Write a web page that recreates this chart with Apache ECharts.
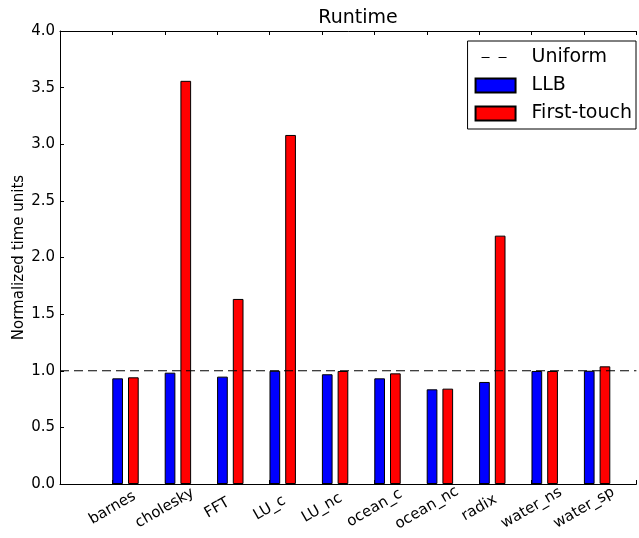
<!DOCTYPE html>
<html>
<head>
<meta charset="utf-8">
<script src="https://cdn.jsdelivr.net/npm/echarts@6/dist/echarts.min.js"></script>
<style>
  html, body { margin: 0; padding: 0; background: #fff; }
  #chart { width: 639px; height: 538px; }
</style>
</head>
<body>
<div id="chart"></div>
<script>
const categories = ["barnes", "cholesky", "FFT", "LU_c", "LU_nc", "ocean_c", "ocean_nc", "radix", "water_ns", "water_sp"];
const llb = [0.933, 0.983, 0.948, 1.0, 0.969, 0.933, 0.836, 0.901, 0.998, 1.0];
const firstTouch = [0.942, 3.56, 1.634, 3.082, 0.998, 0.977, 0.842, 2.193, 0.998, 1.039];
const uniformLevel = 1.0;
const yTicks = { min: 0, max: 4, step: 0.5 };

// bars sit to the right of each tick, like matplotlib's bar(left=i)
const llbData = llb.map((v, i) => [i + 1 + 0.1, v]);
const ftData = firstTouch.map((v, i) => [i + 1 + 0.4, v]);
const uniformData = [[0, uniformLevel], [categories.length + 1, uniformLevel]];

const chart = echarts.init(document.getElementById("chart"), null, { renderer: "canvas" });
const font = "'DejaVu Sans', sans-serif";

// two short dashes inside a 40x14 box (corner specks keep the box size)
const dashIcon = "path://M0,0h0.01v0.01h-0.01z M6,6.5h8v1h-8z M23,6.5h8v1h-8z M39.99,13.99h0.01v0.01h-0.01z";

const option = {
  animation: false,
  title: {
    text: "Runtime",
    left: 353,
    textAlign: "center",
    top: 4,
    textStyle: { fontFamily: font, fontSize: 19, fontWeight: "normal", color: "#000" },
  },
  legend: {
    orient: "vertical",
    right: 3,
    top: 41,
    align: "left",
    padding: [7, 4, 6, 7],
    itemWidth: 40,
    itemHeight: 14,
    itemGap: 9,
    borderColor: "#000",
    borderWidth: 1,
    backgroundColor: "#fff",
    textStyle: { fontFamily: font, fontSize: 19, color: "#000", lineHeight: 19, padding: [0, 0, 0, 11] },
    data: [
      { name: "Uniform", icon: dashIcon, itemStyle: { color: "#000", borderWidth: 0 } },
      { name: "LLB", icon: "rect" },
      { name: "First-touch", icon: "rect" },
    ],
  },
  grid: { left: 60, right: -7, top: 31, bottom: 54 },
  xAxis: [
    {
      type: "value",
      min: 0,
      max: categories.length + 1,
      interval: 1,
      position: "bottom",
      axisLine: { lineStyle: { color: "#000", width: 1 } },
      axisTick: { inside: true, length: 4, lineStyle: { color: "#000" } },
      splitLine: { show: false },
      axisLabel: {
        rotate: 30,
        align: "center",
        verticalAlign: "middle",
        margin: 24,
        fontFamily: font,
        fontSize: 15,
        color: "#000",
        formatter: (v) => (v >= 1 && v <= categories.length ? categories[v - 1] : ""),
      },
    },
    {
      type: "value",
      min: 0,
      max: categories.length + 1,
      interval: 1,
      position: "top",
      axisLine: { lineStyle: { color: "#000", width: 1 } },
      axisTick: { inside: true, length: 4, lineStyle: { color: "#000" } },
      axisLabel: { show: false },
      splitLine: { show: false },
    },
  ],
  yAxis: {
    type: "value",
    min: yTicks.min,
    max: yTicks.max,
    interval: yTicks.step,
    name: "Normalized time units",
    nameLocation: "middle",
    nameGap: 33,
    nameMoveOverlap: false,
    nameTextStyle: { fontFamily: font, fontSize: 15, color: "#000" },
    axisLine: { show: true, lineStyle: { color: "#000", width: 1 } },
    axisTick: { show: true, inside: true, length: 4, lineStyle: { color: "#000" } },
    splitLine: { show: false },
    axisLabel: {
      fontFamily: font,
      fontSize: 15,
      color: "#000",
      margin: 5,
      formatter: (v) => v.toFixed(1),
    },
  },
  series: [
    {
      name: "Uniform",
      type: "line",
      data: uniformData,
      symbol: "none",
      lineStyle: { type: [9, 5], width: 1, color: "#000" },
      itemStyle: { color: "#000" },
      z: 5,
    },
    {
      name: "LLB",
      type: "bar",
      data: llbData,
      barWidth: 10.7,
      barGap: "-100%",
      itemStyle: { color: "#0000ff", borderColor: "#000", borderWidth: 1 },
    },
    {
      name: "First-touch",
      type: "bar",
      data: ftData,
      barWidth: 10.7,
      barGap: "-100%",
      itemStyle: { color: "#ff0000", borderColor: "#000", borderWidth: 1 },
    },
  ],
};

chart.setOption(option);
</script>
</body>
</html>
